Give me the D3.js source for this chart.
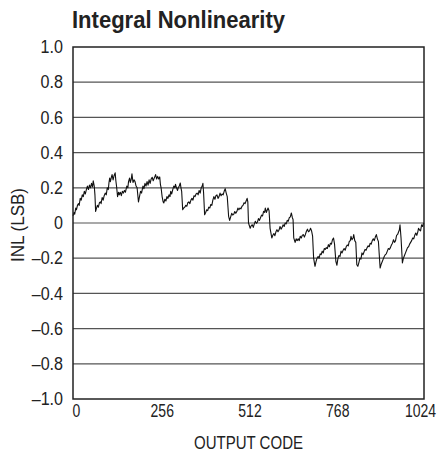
<!DOCTYPE html>
<html>
<head>
<meta charset="utf-8">
<script src="https://cdn.jsdelivr.net/npm/d3@7"></script>
<style>
	body { margin: 0; background: #fff; }
	svg { display: block; font-family: "Liberation Sans", Arial, sans-serif; }
</style>
</head>
<body>
<div id="inl"></div>
<script>
// codes / INL (LSB), one row per sawtooth (~64 codes each)
const codes = [
	0, 3, 5, 8, 10, 13, 16, 18, 21, 24, 27, 30, 33, 36, 39, 42, 45, 48, 51, 54, 57, 59, 62, 64, 66,
	68, 71, 74, 77, 80, 82, 85, 88, 91, 94, 97, 100, 103, 105, 107, 109, 112, 114, 117, 120, 123, 125, 127, 130,
	133, 135, 138, 141, 144, 147, 150, 153, 157, 160, 162, 165, 167, 170, 172, 175, 178, 181, 184, 187, 191,
	194, 197, 200, 204, 207, 210, 213, 216, 219, 222, 225, 228, 231, 234, 237, 241, 244, 247, 250, 253, 255, 257, 260,
	263, 265, 268, 271, 274, 277, 280, 283, 285, 288, 291, 294, 297, 299, 302, 305, 307, 310, 313, 315, 317, 320,
	323, 326, 329, 332, 335, 338, 341, 344, 347, 350, 353, 356, 359, 362, 365, 368, 371, 374, 377, 379, 381, 384,
	387, 390, 393, 396, 399, 402, 405, 408, 411, 414, 417, 420, 423, 426, 429, 432, 435, 438, 441, 444, 447, 450, 454,
	457, 460, 463, 466, 469, 472, 475, 478, 481, 484, 487, 490, 493, 496, 499, 502, 505, 508, 510, 512, 517,
	520, 523, 526, 529, 532, 535, 538, 541, 544, 547, 550, 553, 556, 559, 561, 564, 567, 569, 572, 575, 580,
	583, 586, 589, 592, 595, 598, 601, 604, 607, 610, 613, 616, 619, 622, 625, 628, 631, 634, 637, 640, 642, 644, 648,
	651, 654, 657, 660, 663, 666, 669, 672, 675, 678, 681, 684, 687, 690, 693, 696, 699, 702, 706,
	709, 712, 715, 718, 721, 724, 727, 730, 733, 736, 739, 742, 745, 748, 751, 754, 757, 760, 763, 767, 770,
	773, 776, 779, 782, 785, 788, 791, 794, 797, 800, 803, 806, 809, 811, 814, 817, 819, 822, 825, 828, 831,
	834, 837, 840, 843, 846, 849, 852, 855, 858, 861, 864, 867, 870, 873, 876, 879, 882, 885, 888, 891, 896,
	899, 902, 905, 908, 911, 914, 917, 920, 923, 926, 929, 932, 935, 938, 941, 944, 947, 950, 952, 954, 957, 961,
	964, 967, 970, 973, 976, 979, 982, 985, 988, 991, 994, 997, 1000, 1003, 1006, 1008, 1011, 1014, 1017, 1020, 1022, 1024
];
const inl = [
	0.04, 0.06, 0.05, 0.085, 0.075, 0.10, 0.11, 0.10, 0.14, 0.13, 0.16, 0.15, 0.18, 0.165, 0.19, 0.21, 0.19, 0.215, 0.20, 0.225, 0.205, 0.24, 0.21, 0.16, 0.066,
	0.08, 0.10, 0.09, 0.115, 0.12, 0.11, 0.145, 0.13, 0.155, 0.17, 0.16, 0.20, 0.19, 0.23, 0.255, 0.235, 0.26, 0.275, 0.245, 0.27, 0.285, 0.24, 0.21, 0.15,
	0.175, 0.16, 0.175, 0.155, 0.18, 0.17, 0.185, 0.175, 0.21, 0.2, 0.235, 0.255, 0.23, 0.25, 0.28, 0.23, 0.245, 0.235, 0.21, 0.2, 0.12,
	0.15, 0.18, 0.17, 0.21, 0.195, 0.225, 0.21, 0.235, 0.215, 0.245, 0.225, 0.25, 0.26, 0.24, 0.255, 0.275, 0.25, 0.265, 0.25, 0.262, 0.22, 0.2, 0.15,
	0.12, 0.114, 0.135, 0.125, 0.15, 0.14, 0.16, 0.15, 0.18, 0.165, 0.19, 0.21, 0.2, 0.22, 0.2, 0.185, 0.2, 0.21, 0.227, 0.2, 0.18, 0.076,
	0.085, 0.09, 0.1, 0.095, 0.115, 0.12, 0.11, 0.13, 0.14, 0.13, 0.155, 0.15, 0.165, 0.17, 0.16, 0.185, 0.17, 0.2, 0.21, 0.225, 0.17, 0.047,
	0.06, 0.075, 0.07, 0.09, 0.085, 0.105, 0.1, 0.13, 0.15, 0.135, 0.155, 0.16, 0.14, 0.15, 0.17, 0.155, 0.165, 0.16, 0.18, 0.195, 0.17, 0.15, 0.038,
	0.015, 0.035, 0.055, 0.045, 0.05, 0.065, 0.055, 0.065, 0.085, 0.075, 0.085, 0.08, 0.095, 0.1, 0.115, 0.11, 0.125, 0.14, 0.12, 0.0, -0.03,
	-0.015, -0.01, -0.025, -0.005, 0.01, -0.002, 0.005, 0.025, 0.015, 0.03, 0.045, 0.04, 0.066, 0.06, 0.085, 0.06, 0.075, 0.085, 0.07, -0.03, -0.085,
	-0.07, -0.06, -0.072, -0.05, -0.038, -0.05, -0.04, -0.02, -0.035, -0.025, -0.01, -0.02, 0.0, -0.005, 0.015, 0.01, 0.03, 0.035, 0.057, 0.03, 0.02, -0.085, -0.11,
	-0.09, -0.1, -0.09, -0.1, -0.075, -0.085, -0.07, -0.066, -0.08, -0.065, -0.047, -0.035, -0.05, -0.045, -0.03, -0.045, -0.075, -0.2, -0.246,
	-0.22, -0.2, -0.19, -0.2, -0.175, -0.18, -0.16, -0.17, -0.145, -0.15, -0.14, -0.145, -0.123, -0.135, -0.115, -0.12, -0.095, -0.085, -0.12, -0.22, -0.24,
	-0.2, -0.185, -0.19, -0.16, -0.17, -0.155, -0.145, -0.155, -0.135, -0.125, -0.13, -0.105, -0.1, -0.076, -0.095, -0.085, -0.066, -0.1, -0.11, -0.237, -0.246,
	-0.225, -0.2, -0.205, -0.17, -0.18, -0.165, -0.15, -0.155, -0.14, -0.13, -0.135, -0.115, -0.12, -0.1, -0.09, -0.1, -0.08, -0.066, -0.09, -0.105, -0.256,
	-0.235, -0.22, -0.205, -0.19, -0.18, -0.175, -0.16, -0.145, -0.15, -0.14, -0.125, -0.115, -0.095, -0.11, -0.1, -0.07, -0.065, -0.05, -0.04, -0.01, -0.085, -0.227,
	-0.2, -0.185, -0.17, -0.155, -0.14, -0.135, -0.12, -0.11, -0.1, -0.085, -0.09, -0.07, -0.057, -0.07, -0.05, -0.03, -0.04, -0.045, -0.01, -0.02, -0.005, 0.0
];
const xTicks = [0, 256, 512, 768, 1024];
const yTicks = [-1.0, -0.8, -0.6, -0.4, -0.2, 0, 0.2, 0.4, 0.6, 0.8, 1.0];

const width = 441, height = 456;
const margin = {top: 47, right: 17, bottom: 57, left: 73};
const w = width - margin.left - margin.right;
const h = height - margin.top - margin.bottom;

// squeeze text horizontally to fake the condensed face of the datasheet
function squeeze(sel, k) {
	sel.each(function() {
		const len = this.getComputedTextLength();
		d3.select(this).attr('textLength', len * k).attr('lengthAdjust', 'spacingAndGlyphs');
	});
}

const svg = d3.select('#inl')
	.append('svg')
	.attr('width', width)
	.attr('height', height);

const g = svg.append('g')
	.attr('transform', `translate(${margin.left}, ${margin.top})`);

const x = d3.scaleLinear().domain([0, 1024]).range([0, w]);
const y = d3.scaleLinear().domain([-1, 1]).range([h, 0]);

/* GRID LINES */
g.append('g')
	.selectAll('line')
	.data(yTicks.slice(1, -1))
	.enter()
	.append('line')
	.attr('x1', 0)
	.attr('x2', w)
	.attr('y1', d => y(d))
	.attr('y2', d => y(d))
	.attr('stroke', '#555')
	.attr('stroke-width', 1.2);

// en dash for the minus sign
const fmtY = d => (d === 0 ? '0' : (d < 0 ? '\u2013' : '') + d3.format('.1f')(Math.abs(d)));

/* Y AXIS */
const yAxis = d3.axisLeft(y).tickValues(yTicks).tickSize(0).tickPadding(10).tickFormat(fmtY);
g.append('g')
	.call(yAxis)
	.call(a => a.select('.domain').remove())
	.selectAll('text')
	.attr('font-size', 17.5)
	.attr('fill', '#222')
	.call(squeeze, 0.92);

/* X AXIS */
const xAxis = d3.axisBottom(x).tickValues(xTicks).tickSize(0).tickPadding(6).tickFormat(d3.format('d'));
g.append('g')
	.attr('transform', `translate(0, ${h})`)
	.call(xAxis)
	.call(a => a.select('.domain').remove())
	.selectAll('text')
	.attr('font-size', 17.5)
	.attr('fill', '#222')
	.attr('dx', d => (d === 0 ? 3 : d === 1024 ? -4 : 1))
	.call(squeeze, 0.8);

g.selectAll('.tick text').attr('font-family', null);

/* CURVE */
const pts = codes.map((c, i) => [c, inl[i]]);
g.append('path')
	.datum(pts)
	.attr('fill', 'none')
	.attr('stroke', '#111')
	.attr('stroke-width', 1.1)
	.attr('stroke-linejoin', 'round')
	.attr('d', d3.line().x(d => x(d[0])).y(d => y(d[1])));

/* FRAME */
g.append('rect')
	.attr('width', w)
	.attr('height', h)
	.attr('fill', 'none')
	.attr('stroke', '#222')
	.attr('stroke-width', 1.5);

/* TITLES */
svg.append('text')
	.attr('x', margin.left - 1)
	.attr('y', 28)
	.attr('font-size', 24)
	.attr('font-weight', 'bold')
	.attr('fill', '#222')
	.attr('textLength', 213)
	.attr('lengthAdjust', 'spacingAndGlyphs')
	.text('Integral Nonlinearity');

svg.append('text')
	.attr('x', margin.left + w / 2)
	.attr('y', 449)
	.attr('text-anchor', 'middle')
	.attr('font-size', 17.5)
	.attr('fill', '#222')
	.attr('textLength', 109)
	.attr('lengthAdjust', 'spacingAndGlyphs')
	.text('OUTPUT CODE');

svg.append('text')
	.attr('transform', 'translate(24, 225) rotate(-90)')
	.attr('text-anchor', 'middle')
	.attr('font-size', 17.5)
	.attr('fill', '#222')
	.attr('textLength', 74)
	.attr('lengthAdjust', 'spacingAndGlyphs')
	.text('INL (LSB)');
</script>
</body>
</html>
